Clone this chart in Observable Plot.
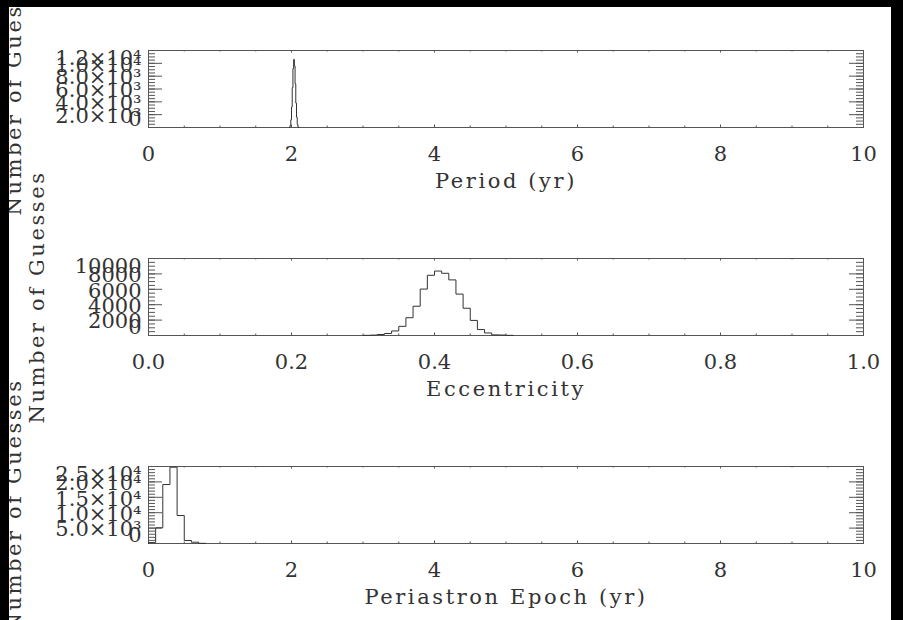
<!DOCTYPE html>
<html><head><meta charset="utf-8">
<script src="https://cdn.jsdelivr.net/npm/d3@7"></script>
<script src="https://cdn.jsdelivr.net/npm/@observablehq/plot@0.6"></script>
<style>
html,body{margin:0;padding:0;background:#000;width:903px;height:620px;overflow:hidden;}
#page{position:absolute;left:9px;top:7px;width:882px;height:613px;background:#fff;overflow:hidden;}
.panel{position:absolute;left:-9px;width:903px;}
.panel svg{overflow:visible;background:transparent;max-width:none !important;}
</style></head><body><div id="page"></div>
<script>
// ---------- data ----------
const yTitle = "Number of Guesses";

// Panel 1: Period (yr), bins of 0.01 yr
const periodBinStart = [1.97,1.98,1.99,2.00,2.01,2.02,2.03,2.04,2.05,2.06,2.07,2.08,2.09];
const periodCounts   = [50,300,1200,3200,6200,9200,10600,9600,6800,3800,1600,500,100];
const periodBinWidth = 0.01;
const periodXTicks = [0,2,4,6,8,10];
const periodXLabels = ["0","2","4","6","8","10"];
const periodYTicks = [0,2000,4000,6000,8000,10000,12000];
const periodYLabels = ["0","2.0×10³","4.0×10³","6.0×10³","8.0×10³","1.0×10⁴","1.2×10⁴"];

// Panel 2: Eccentricity, bins of 0.01
const eccBinStart = [0.30,0.31,0.32,0.33,0.34,0.35,0.36,0.37,0.38,0.39,0.40,0.41,0.42,0.43,0.44,0.45,0.46,0.47,0.48,0.49,0.50];
const eccCounts   = [20,50,130,260,590,1190,2310,3800,6030,7820,8370,8080,7220,5380,3540,1960,770,330,80,60,20];
const eccBinWidth = 0.01;
const eccXTicks = [0,0.2,0.4,0.6,0.8,1.0];
const eccXLabels = ["0.0","0.2","0.4","0.6","0.8","1.0"];
const eccYTicks = [0,2000,4000,6000,8000,10000];
const eccYLabels = ["0","2000","4000","6000","8000","10000"];

// Panel 3: Periastron Epoch (yr), bins of 0.1 yr
const epochBinStart = [0.0,0.1,0.2,0.3,0.4,0.5,0.6,0.7];
const epochCounts   = [300,5100,19150,24770,9090,970,420,60];
const epochBinWidth = 0.1;
const epochXTicks = [0,2,4,6,8,10];
const epochXLabels = ["0","2","4","6","8","10"];
const epochYTicks = [0,5000,10000,15000,20000,25000];
const epochYLabels = ["0","5.0×10³","1.0×10⁴","1.5×10⁴","2.0×10⁴","2.5×10⁴"];

// ---------- drawing ----------
const FONT = "DejaVu Serif";
const W = 903, ML = 148, MR = 40, MT = 50, MB = 80, FH = 77;
const FW = W - ML - MR;
const INK = "#333";

function panel(o) {
  const pts = [{x: o.bins[0], y: 0}]
    .concat(o.bins.map((b, i) => ({x: b, y: o.counts[i]})))
    .concat([{x: o.bins[o.bins.length - 1] + o.bw, y: 0}]);
  const yMinor = d3.range(o.yDomain[0], o.yDomain[1] + 1e-9, o.yMinorStep);
  const xMinor = d3.range(o.xDomain[0], o.xDomain[1] + 1e-9, o.xMinorStep);
  const n = o.yTicks.length;
  const lab = o.yTicks.map((v, i) => ({v, t: o.yLabels[i]}));
  const xl = o.xTicks.map((v, i) => ({v, t: o.xLabels[i]}));
  const chart = Plot.plot({
    width: W, height: MT + FH + MB,
    marginLeft: ML, marginRight: MR, marginTop: MT, marginBottom: MB,
    x: {domain: o.xDomain, axis: null},
    y: {domain: o.yDomain, axis: null},
    style: {fontFamily: FONT, background: "transparent", overflow: "visible", maxWidth: "none"},
    marks: [
      Plot.tickY(yMinor, {y: d => d, stroke: "#555", strokeWidth: 1, insetRight: FW - 7}),
      Plot.tickY(yMinor, {y: d => d, stroke: "#555", strokeWidth: 1, insetLeft: FW - 7}),
      Plot.tickY(o.yTicks, {y: d => d, stroke: "#555", strokeWidth: 1, insetRight: FW - 14}),
      Plot.tickY(o.yTicks, {y: d => d, stroke: "#555", strokeWidth: 1, insetLeft: FW - 14}),
      Plot.tickX(xMinor, {x: d => d, stroke: "#555", strokeWidth: 1, insetTop: FH - 1.5}),
      Plot.tickX(xMinor, {x: d => d, stroke: "#555", strokeWidth: 1, insetBottom: FH - 1.5}),
      Plot.tickX(o.xTicks, {x: d => d, stroke: "#555", strokeWidth: 1, insetTop: FH - 2.5}),
      Plot.tickX(o.xTicks, {x: d => d, stroke: "#555", strokeWidth: 1, insetBottom: FH - 2.5}),
      Plot.frame({stroke: "#555", strokeWidth: 1}),
      Plot.line(pts, {x: "x", y: "y", curve: "step-after", stroke: INK, strokeWidth: 1}),
      Plot.text(lab.slice(1, n - 1), {x: () => o.xDomain[0], y: "v", text: "t", textAnchor: "end", dx: -7, dy: 1.5, fontSize: 21, fill: INK}),
      Plot.text(lab.slice(n - 1), {x: () => o.xDomain[0], y: "v", text: "t", textAnchor: "end", dx: -7, dy: 7.5, fontSize: 21, fill: INK}),
      Plot.text(lab.slice(0, 1), {x: () => o.xDomain[0], y: "v", text: "t", textAnchor: "end", dx: -7, dy: -8, fontSize: 21, fill: INK}),
      Plot.text(xl, {x: "v", frameAnchor: "bottom", text: "t", dy: 33, fontSize: 21, fill: INK}),
      Plot.text([o.xTitle], {frameAnchor: "bottom", text: d => d, dy: 60, fontSize: 21, fill: INK}),
      Plot.text([yTitle], {frameAnchor: "left", text: d => d, rotate: -90, textAnchor: "middle", dx: o.ytX - ML, dy: o.ytDy, fontSize: 21, fill: INK})
    ]
  });
  // wider letter spacing of the axis titles, as in the original vector font
  d3.select(chart).selectAll("text")
    .filter(function () { return this.textContent === o.xTitle || this.textContent === yTitle; })
    .attr("letter-spacing", "2.6px");
  const div = document.createElement("div");
  div.className = "panel";
  div.style.top = (o.frameTop - MT - 7) + "px";
  div.appendChild(chart);
  document.getElementById("page").appendChild(div);
}

panel({frameTop: 50, xDomain: [0, 10], yDomain: [0, 12000], xMinorStep: 0.5, yMinorStep: 500,
  xTicks: periodXTicks, xLabels: periodXLabels, yTicks: periodYTicks, yLabels: periodYLabels,
  xTitle: "Period (yr)", bins: periodBinStart, counts: periodCounts, bw: periodBinWidth, ytX: 14, ytDy: 0});
panel({frameTop: 258, xDomain: [0, 1], yDomain: [0, 10000], xMinorStep: 0.05, yMinorStep: 500,
  xTicks: eccXTicks, xLabels: eccXLabels, yTicks: eccYTicks, yLabels: eccYLabels,
  xTitle: "Eccentricity", bins: eccBinStart, counts: eccCounts, bw: eccBinWidth, ytX: 37, ytDy: 0});
panel({frameTop: 466, xDomain: [0, 10], yDomain: [0, 25000], xMinorStep: 0.5, yMinorStep: 1000,
  xTicks: epochXTicks, xLabels: epochXLabels, yTicks: epochYTicks, yLabels: epochYLabels,
  xTitle: "Periastron Epoch (yr)", bins: epochBinStart, counts: epochCounts, bw: epochBinWidth, ytX: 14, ytDy: 0});
</script>
</body></html>
